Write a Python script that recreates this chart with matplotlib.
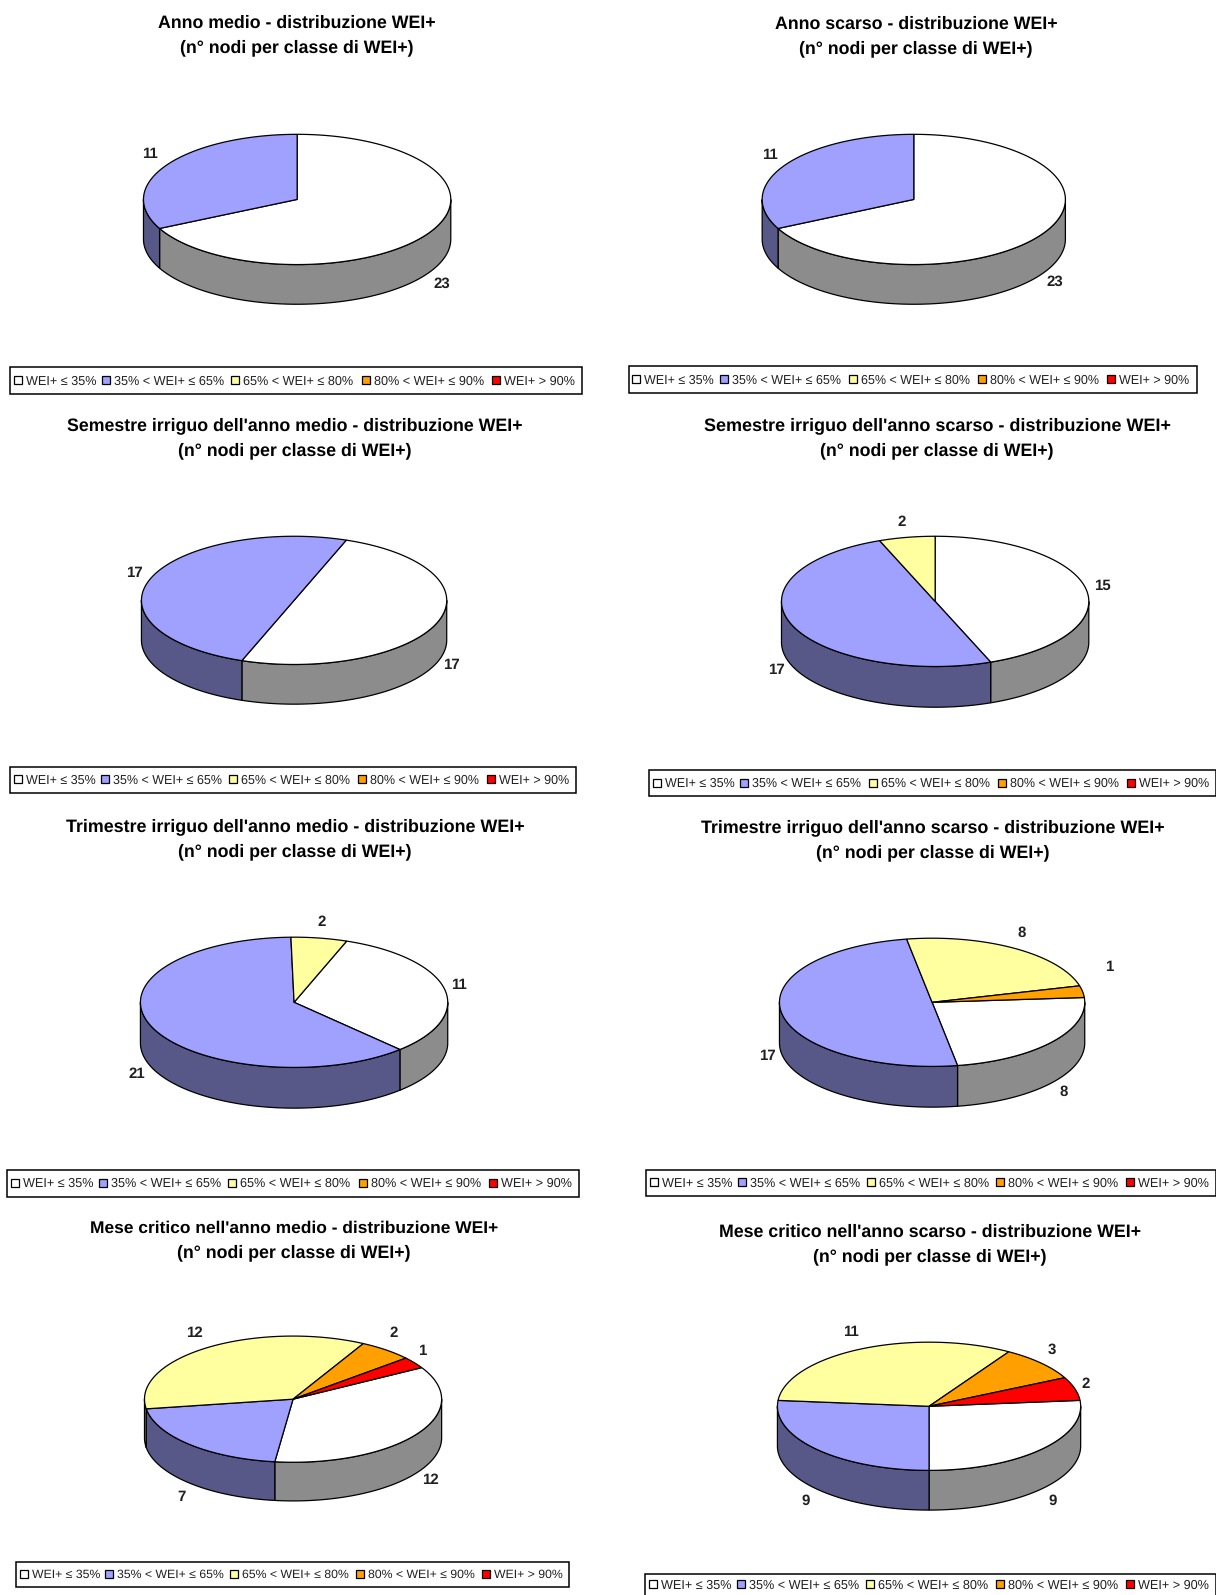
import numpy as np
import matplotlib
matplotlib.use('Agg')
import matplotlib.pyplot as plt
from matplotlib.patches import Polygon, Rectangle

plt.rcParams['font.family'] = ['Liberation Sans', 'DejaVu Sans']
plt.rcParams['text.hinting'] = 'no_hinting'

# data, one list per chart: white, blue, yellow, orange, red classes
titles = ["Anno medio - distribuzione WEI+",
          "Anno scarso - distribuzione WEI+",
          "Semestre irriguo dell'anno medio - distribuzione WEI+",
          "Semestre irriguo dell'anno scarso - distribuzione WEI+",
          "Trimestre irriguo dell'anno medio - distribuzione WEI+",
          "Trimestre irriguo dell'anno scarso - distribuzione WEI+",
          "Mese critico nell'anno medio - distribuzione WEI+",
          "Mese critico nell'anno scarso - distribuzione WEI+"]
subtitle = "(n° nodi per classe di WEI+)"
classes = ["WEI+ ≤ 35%", "35% < WEI+ ≤ 65%", "65% < WEI+ ≤ 80%", "80% < WEI+ ≤ 90%", "WEI+ > 90%"]
anno_medio = [23, 11, 0, 0, 0]
anno_scarso = [23, 11, 0, 0, 0]
semestre_medio = [17, 17, 0, 0, 0]
semestre_scarso = [15, 17, 2, 0, 0]
trimestre_medio = [11, 21, 2, 0, 0]
trimestre_scarso = [8, 17, 8, 1, 0]
mese_medio = [12, 7, 12, 2, 1]
mese_scarso = [9, 9, 11, 3, 2]
all_values = [anno_medio, anno_scarso, semestre_medio, semestre_scarso,
              trimestre_medio, trimestre_scarso, mese_medio, mese_scarso]

top_colors = ['#FFFFFF', '#A0A0FF', '#FFFFA0', '#FFA000', '#FF0000']
side_colors = ['#8C8C8C', '#585888', '#8C8C58', '#8C5800', '#8C0000']

# layout, measured in the 1195 wide view
S = 1216 / 1195
rot = [0, 0, 20, 0, 20, 85.7, 60, 84.7]
centers = [(292, 196), (898, 196), (289, 590), (919, 591), (289, 985), (916, 985), (288, 1375), (913, 1382)]
radii = [(151, 64), (149, 64), (150, 63), (151, 64), (151, 64), (150, 63), (146, 62), (149, 63)]
depths = [39, 39, 39, 40, 40, 40, 38, 39]
title_pos = [(292, 22, 46), (900, 23, 47), (290, 418, 442), (921, 418, 442),
             (290, 812, 836), (917, 813, 837), (289, 1207, 1230), (914, 1210, 1234)]
title_size = [12.75, 12.75, 12.75, 12.95, 12.9, 12.9, 12.55, 12.8]
legend_box = [(10, 361, 572, 387), (618, 360, 1176, 386), (10, 754, 566, 779), (638, 757, 1195, 782),
              (7, 1150, 569, 1176), (635, 1150, 1195, 1175), (16, 1535, 559, 1560), (634, 1547, 1195, 1568)]
label_pos = [[(434, 279), (147, 151)], [(1037, 277), (757, 152)],
             [(444, 654), (132, 563)], [(1083, 576), (763, 659), (886, 513)],
             [(451, 968), (134, 1056), (316, 906)], [(1045, 1073), (754, 1038), (1004, 917), (1090, 950)],
             [(423, 1455), (178, 1471), (191, 1310), (387, 1310), (415, 1328)],
             [(1034, 1475), (792, 1475), (836, 1309), (1034, 1327), (1067, 1360)]]
legend_x = [0, 87, 214, 342, 470]

fig = plt.figure(figsize=(12.16, 15.95), dpi=100)
ax = fig.add_axes([0, 0, 1, 1])
ax.set_xlim(0, 1216)
ax.set_ylim(1595, 0)
ax.axis('off')


def rim(cx, cy, rx, ry, a0, a1, dy=0):
    # angles clockwise from 12 o'clock
    t = np.radians(np.linspace(a0, a1, 120))
    return np.column_stack([cx + rx * np.sin(t), cy + dy - ry * np.cos(t)])


def draw_pie(values, start, center, radius, depth):
    cx, cy = center[0] * S, center[1] * S
    rx, ry = radius[0] * S, radius[1] * S
    d = depth * S
    edges = start + np.cumsum([0] + values) * 360.0 / sum(values)
    # wall first, only the part of every slice on the front half
    for k in (0, 1):
        for i in range(5):
            if values[i] == 0:
                continue
            a0 = max(edges[i], 90 + 360 * k)
            a1 = min(edges[i + 1], 270 + 360 * k)
            if a1 <= a0:
                continue
            up = rim(cx, cy, rx, ry, a0, a1)
            lo = rim(cx, cy, rx, ry, a0, a1, d)
            ax.add_patch(Polygon(np.vstack([up, lo[::-1]]), closed=True, fc=side_colors[i], ec='black', lw=0.9, zorder=2))
    for i in range(5):
        if values[i] == 0:
            continue
        arc = rim(cx, cy, rx, ry, edges[i], edges[i + 1])
        ax.add_patch(Polygon(np.vstack([[cx, cy], arc]), closed=True, fc=top_colors[i], ec='black', lw=0.9, zorder=3))


def draw_legend(box):
    x0, y0, x1, y1 = [v * S for v in box]
    ax.add_patch(Rectangle((x0, y0), x1 - x0, y1 - y0, fc='white', ec='black', lw=1.1, zorder=2))
    ym = (y0 + y1) / 2
    k = (x1 - x0) / (562 * S)
    for i, lab in enumerate(classes):
        xs = x0 + (3.5 + legend_x[i]) * S * k
        ax.add_patch(Rectangle((xs, ym - 4.5), 8, 8, fc=top_colors[i], ec='black', lw=0.9, zorder=3))
        ax.text(xs + 12, ym + 0.5, lab, fontsize=9.1 * min(k, 1), color='#202020', va='center', ha='left', zorder=3)


for n in range(8):
    draw_pie(all_values[n], rot[n], centers[n], radii[n], depths[n])
    tx, ty1, ty2 = title_pos[n]
    ax.text(tx * S, (ty1 + 0.5) * S, titles[n], fontsize=title_size[n], fontweight='bold', ha='center', va='center')
    ax.text(tx * S, (ty2 + 0.5) * S, subtitle, fontsize=12.75, fontweight='bold', ha='center', va='center')
    draw_legend(legend_box[n])
    shown = [v for v in all_values[n] if v > 0]
    for v, (lx, ly) in zip(shown, label_pos[n]):
        ax.text(lx * S, ly * S, str(v), fontsize=10.8, fontweight='bold', color='#202020', ha='center', va='center', zorder=4)

fig.savefig('out.png', dpi=100, facecolor='white')
